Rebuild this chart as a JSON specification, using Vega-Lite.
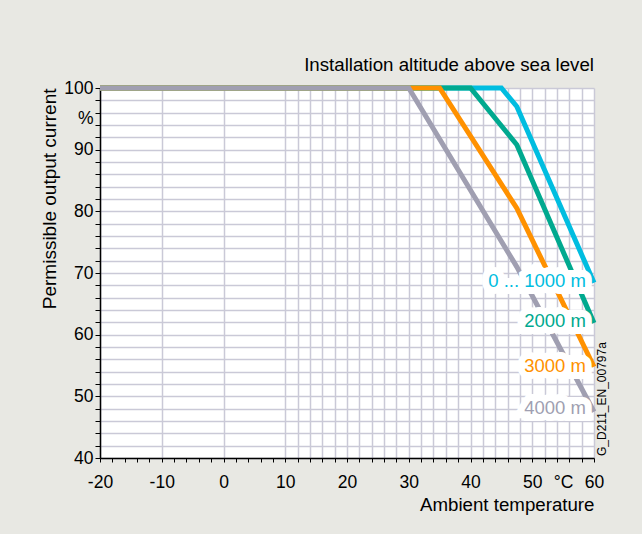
{
  "$schema": "https://vega.github.io/schema/vega-lite/v6.json",
  "width": 494,
  "height": 370,
  "autosize": {"type": "none"},
  "padding": {"left": 100, "top": 88, "right": 48, "bottom": 76},
  "background": "#e8e8e3",
  "config": {
    "font": "Liberation Sans",
    "view": {"stroke": null, "fill": "white"}
  },
  "title": {
    "text": "Installation altitude above sea level",
    "anchor": "end",
    "frame": "group",
    "offset": 3,
    "fontSize": 18.7,
    "fontWeight": "normal",
    "color": "#000000"
  },
  "datasets": {
    "curves": [
      {"alt": "0 ... 1000 m", "t": -20, "p": 100},
      {"alt": "0 ... 1000 m", "t": 45, "p": 100},
      {"alt": "0 ... 1000 m", "t": 47.5, "p": 97},
      {"alt": "0 ... 1000 m", "t": 60, "p": 68.4},
      {"alt": "2000 m", "t": -20, "p": 100},
      {"alt": "2000 m", "t": 40, "p": 100},
      {"alt": "2000 m", "t": 47.5, "p": 90.8},
      {"alt": "2000 m", "t": 60, "p": 61.9},
      {"alt": "3000 m", "t": -20, "p": 100},
      {"alt": "3000 m", "t": 35, "p": 100},
      {"alt": "3000 m", "t": 47.5, "p": 80.5},
      {"alt": "3000 m", "t": 60, "p": 54.8},
      {"alt": "4000 m", "t": -20, "p": 100},
      {"alt": "4000 m", "t": 30, "p": 100},
      {"alt": "4000 m", "t": 47.5, "p": 71},
      {"alt": "4000 m", "t": 60, "p": 47.5}
    ],
    "labels": [
      {"alt": "0 ... 1000 m", "t": 58.7, "p": 68.7},
      {"alt": "2000 m", "t": 58.7, "p": 62.2},
      {"alt": "3000 m", "t": 58.7, "p": 54.9},
      {"alt": "4000 m", "t": 58.7, "p": 48.1}
    ],
    "code": [
      {"code": "G_D211_EN_00797a", "t": 60, "p": 40}
    ]
  },
  "encoding": {
    "x": {
      "field": "t",
      "type": "quantitative",
      "scale": {"domain": [-20, 60], "nice": false, "zero": false},
      "axis": {
        "title": "Ambient temperature",
        "titleAnchor": "end",
        "titleFontSize": 18.7,
        "titleFontWeight": "normal",
        "titleColor": "#000000",
        "titlePadding": 5,
        "values": [-20, -18, -16, -14, -12, -10, -8, -6, -4, -2, 0, 2, 4, 6, 8, 10, 12, 14, 16, 18, 20, 22, 24, 26, 28, 30, 32, 34, 36, 38, 40, 42, 44, 46, 48, 50, 52, 54, 56, 58, 60, 55],
        "labelExpr": "datum.value == 55 ? '°C' : (datum.value % 10 == 0 ? '' + datum.value : '')",
        "labelFontSize": 17.5,
        "labelColor": "#000000",
        "labelFlush": false,
        "labelOverlap": false,
        "labelBound": false,
        "labelPadding": 11,
        "tickColor": "#000000",
        "tickSize": 4,
        "tickWidth": 1,
        "tickOpacity": {"condition": {"test": "datum.value == 55", "value": 0}, "value": 1},
        "domainColor": "#000000",
        "domainWidth": 1.5,
        "grid": true,
        "gridColor": "#cac9d7",
        "gridWidth": 1.5,
        "gridOpacity": {"condition": {"test": "datum.value == 55 || (datum.value < 10 && datum.value % 10 != 0)", "value": 0}, "value": 1}
      }
    },
    "y": {
      "field": "p",
      "type": "quantitative",
      "scale": {"domain": [40, 100], "nice": false, "zero": false},
      "axis": {
        "title": "Permissible output current",
        "titleAnchor": "end",
        "titleFontSize": 19,
        "titleFontWeight": "normal",
        "titleColor": "#000000",
        "titlePadding": 4,
        "values": [40, 42, 44, 46, 48, 50, 52, 54, 56, 58, 60, 62, 64, 66, 68, 70, 72, 74, 76, 78, 80, 82, 84, 86, 88, 90, 92, 94, 96, 98, 100, 95],
        "labelExpr": "datum.value == 95 ? '%' : (datum.value % 10 == 0 ? '' + datum.value : '')",
        "labelFontSize": 17.5,
        "labelColor": "#000000",
        "labelFlush": false,
        "labelOverlap": false,
        "labelBound": false,
        "labelPadding": 2,
        "tickColor": "#000000",
        "tickSize": 5,
        "tickWidth": 1,
        "tickOpacity": {"condition": {"test": "datum.value == 95", "value": 0}, "value": 1},
        "domainColor": "#000000",
        "domainWidth": 1.5,
        "grid": true,
        "gridColor": "#cac9d7",
        "gridWidth": 1.5,
        "gridOpacity": {"condition": {"test": "datum.value == 95", "value": 0}, "value": 1}
      }
    }
  },
  "layer": [
    {
      "data": {"name": "curves"},
      "mark": {"type": "line", "strokeWidth": 5, "strokeCap": "butt", "strokeJoin": "miter"},
      "encoding": {
        "color": {
          "field": "alt",
          "type": "nominal",
          "scale": {"domain": ["0 ... 1000 m", "2000 m", "3000 m", "4000 m"], "range": ["#00bde0", "#00a98f", "#ff9100", "#a09fb1"]},
          "legend": null
        }
      }
    },
    {
      "data": {"name": "labels"},
      "mark": {"type": "text", "align": "right", "baseline": "middle", "fontSize": 18.5, "fill": "white", "stroke": "white", "strokeWidth": 14, "strokeJoin": "miter"},
      "encoding": {"text": {"field": "alt"}}
    },
    {
      "data": {"name": "labels"},
      "mark": {"type": "text", "align": "right", "baseline": "middle", "fontSize": 18.5},
      "encoding": {
        "text": {"field": "alt"},
        "color": {"field": "alt", "type": "nominal", "legend": null}
      }
    },
    {
      "data": {"name": "code"},
      "mark": {"type": "text", "angle": 270, "align": "left", "baseline": "top", "dx": 2, "dy": 3, "fontSize": 12, "color": "#000000"},
      "encoding": {"text": {"field": "code"}}
    }
  ]
}
